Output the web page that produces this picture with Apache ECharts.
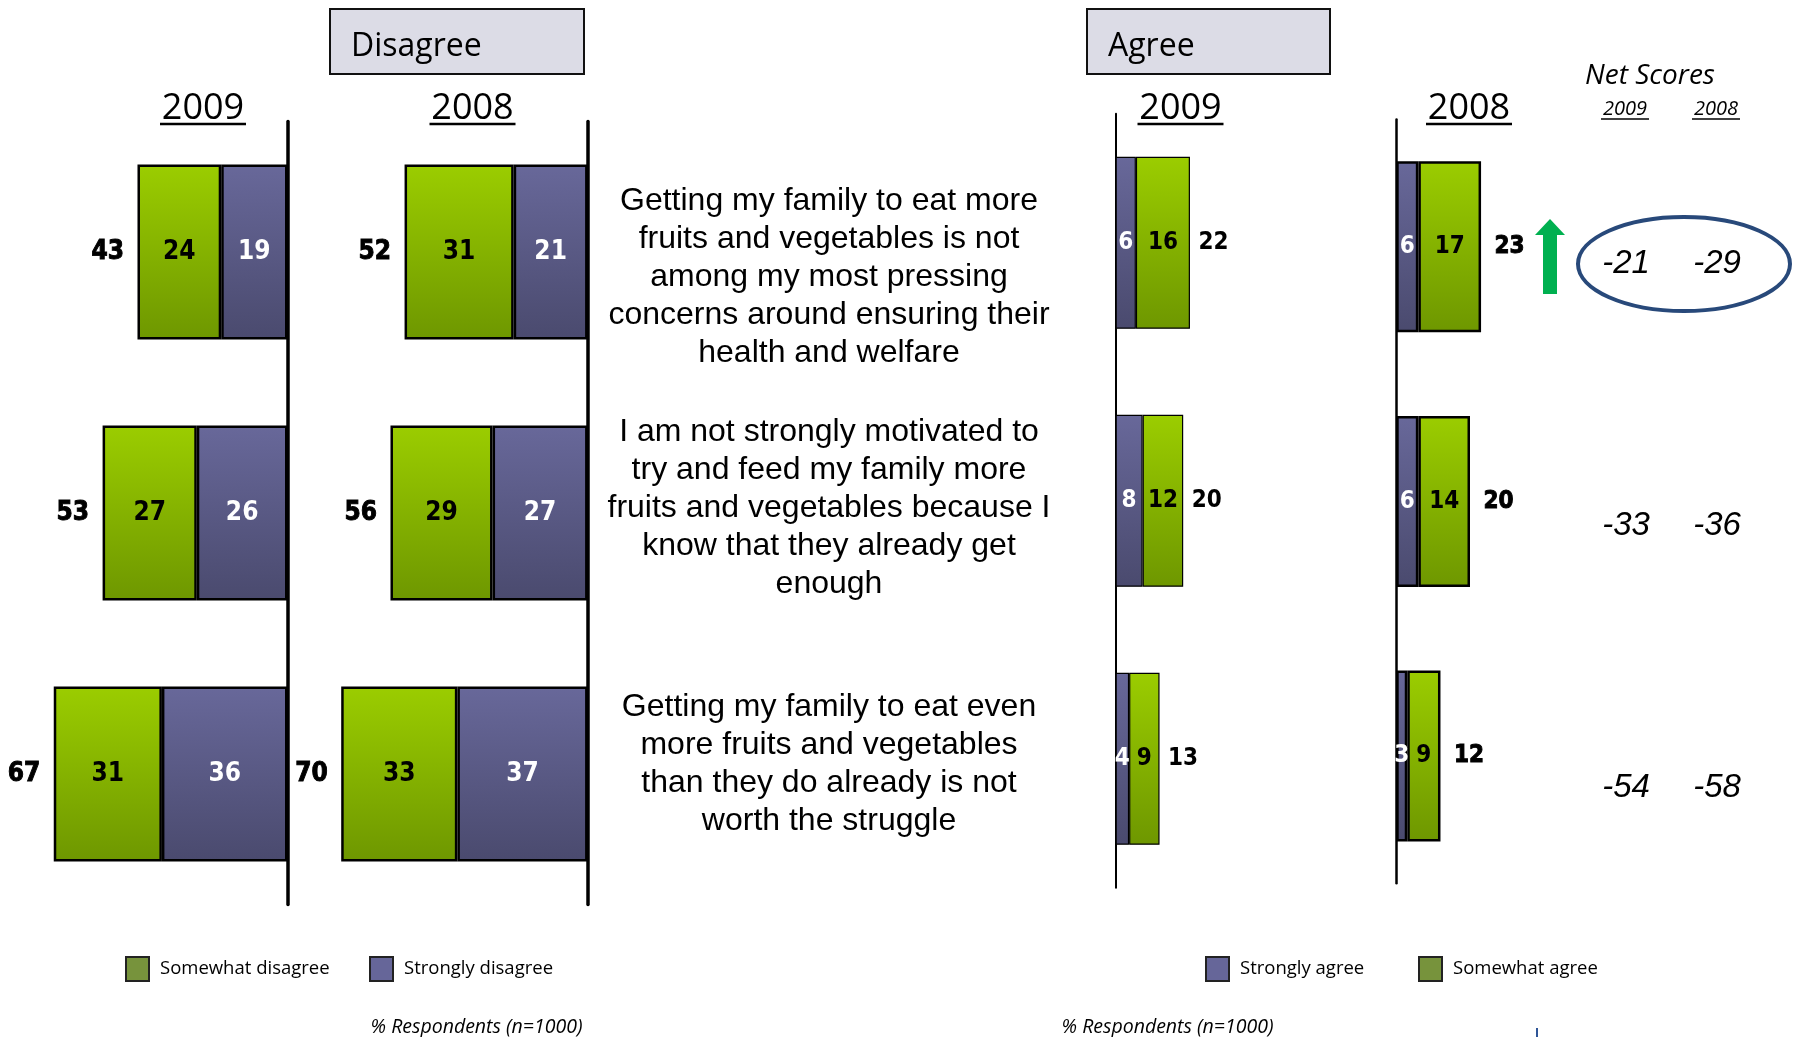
<!DOCTYPE html>
<html><head><meta charset="utf-8">
<script src="https://cdn.jsdelivr.net/npm/echarts@6/dist/echarts.min.js"></script>
<style>html,body{margin:0;padding:0;background:#fff}#c{width:1796px;height:1037px}</style>
</head><body><div id="c"></div>
<script>
// ---------------- DATA ----------------
const statements = [
  "Getting my family to eat more\nfruits and vegetables is not\namong my most pressing\nconcerns around ensuring their\nhealth and welfare",
  "I am not strongly motivated to\ntry and feed my family more\nfruits and vegetables because I\nknow that they already get\nenough",
  "Getting my family to eat even\nmore fruits and vegetables\nthan they do already is not\nworth the struggle"
];
const disagree2009Strongly = [19, 26, 36];
const disagree2009Somewhat = [24, 27, 31];
const disagree2009Total    = [43, 53, 67];
const disagree2008Strongly = [21, 27, 37];
const disagree2008Somewhat = [31, 29, 33];
const disagree2008Total    = [52, 56, 70];
const agree2009Strongly = [6, 8, 4];
const agree2009Somewhat = [16, 12, 9];
const agree2009Total    = [22, 20, 13];
const agree2008Strongly = [6, 6, 3];
const agree2008Somewhat = [17, 14, 9];
const agree2008Total    = [23, 20, 12];
const netScoreYears  = ['2009', '2008'];
const netScores2009  = [-21, -33, -54];
const netScores2008  = [-29, -36, -58];
const panelYears = ['2009', '2008', '2009', '2008'];

// ---------------- STYLE ----------------
const NARROW = "'Liberation Sans Narrow','Arial Narrow','DejaVu Sans Condensed',sans-serif";
const SANS = "'Liberation Sans',Arial,sans-serif";
const CAL = "'Open Sans',sans-serif";
const green = () => ({type:'linear',x:0,y:0,x2:0,y2:1,colorStops:[{offset:0,color:'#9BCD00'},{offset:1,color:'#6E9700'}]});
const purple = () => ({type:'linear',x:0,y:0,x2:0,y2:1,colorStops:[{offset:0,color:'#68689A'},{offset:1,color:'#4A4A6E'}]});

function barSeries(name, data, gi, color, labelColor, bw, borderW, fontSize) {
  return {type:'bar', name, data, xAxisIndex:gi, yAxisIndex:gi, stack:'s'+gi, barWidth:bw,
    itemStyle:{color, borderColor:'#000', borderWidth:borderW},
    label:{show:true, position:'inside', color:labelColor, fontFamily:NARROW, fontWeight:'bold', fontSize},
    silent:true};
}
function totalSeries(data, gi, pos, dist, fontSize, heavy) {
  return {type:'scatter', name:'total'+gi, data:data.map((v,i)=>[v,i]), xAxisIndex:gi, yAxisIndex:gi,
    symbolSize:1, itemStyle:{color:'rgba(0,0,0,0)', opacity:1}, z:5, silent:true,
    label:{show:true, opacity:1, position:pos, distance:dist, formatter:p=>p.value[0], color:'#000',
      fontFamily:NARROW, fontWeight:'bold', fontSize,
      textBorderColor:'#000', textBorderWidth: heavy ? 0.9 : 0}};
}
function netSeries(data, col) {
  return {type:'scatter', name:'net'+col, data:data.map((v,i)=>[col,i,v]), xAxisIndex:4, yAxisIndex:4,
    symbolSize:1, itemStyle:{color:'rgba(0,0,0,0)', opacity:1}, silent:true,
    label:{show:true, opacity:1, position:'inside', formatter:p=>p.value[2], color:'#000',
      fontFamily:SANS, fontStyle:'italic', fontSize:33}};
}

const grids = [
  {left:8.4,   width:279.1, top:121.5, height:783},
  {left:306,   width:281.6, top:121.5, height:783},
  {left:1115.6,width:101.4, top:113.8, height:774},
  {left:1396.2,width:110.7, top:119.5, height:763.8},
  {left:1580.5,width:182,   top:133,   height:786}
].map(g => Object.assign({outerBoundsMode:'none', containLabel:false}, g));

const xMax = [80, 80, 30, 30];
const xAxes = xMax.map((m,i)=>({type:'value', gridIndex:i, min:0, max:m, inverse:i<2, show:false}));
xAxes.push({type:'category', gridIndex:4, data:netScoreYears, show:false});

const axisW = [3.5, 3.5, 2, 2.5];
const yAxes = [0,1,2,3].map(i=>({
  type:'category', gridIndex:i, inverse:true, position: i<2 ? 'right' : 'left',
  data: statements,
  axisLine:{show:true, onZero:false, lineStyle:{color:'#000', width:axisW[i]}},
  axisTick:{show:false}, splitLine:{show:false}, axisLabel:{show:false}
}));
yAxes.push({type:'category', gridIndex:4, inverse:true, data:statements, show:false});

const series = [
  barSeries('Strongly disagree', disagree2009Strongly, 0, purple(), '#fff', 175, 2.5, 26),
  barSeries('Somewhat disagree', disagree2009Somewhat, 0, green(), '#000', 175, 2.5, 26),
  totalSeries(disagree2009Total, 0, 'left', 13, 26, true),
  barSeries('Strongly disagree', disagree2008Strongly, 1, purple(), '#fff', 175, 2.5, 26),
  barSeries('Somewhat disagree', disagree2008Somewhat, 1, green(), '#000', 175, 2.5, 26),
  totalSeries(disagree2008Total, 1, 'left', 13, 26, true),
  barSeries('Strongly agree', agree2009Strongly, 2, purple(), '#fff', 172, 1.2, 24),
  barSeries('Somewhat agree', agree2009Somewhat, 2, green(), '#000', 172, 1.2, 24),
  totalSeries(agree2009Total, 2, 'right', 8, 24, false),
  barSeries('Strongly agree', agree2008Strongly, 3, purple(), '#fff', 171, 2.5, 24),
  barSeries('Somewhat agree', agree2008Somewhat, 3, green(), '#000', 171, 2.5, 24),
  totalSeries(agree2008Total, 3, 'right', 13, 24, true),
  netSeries(netScores2009, 0),
  netSeries(netScores2008, 1)
];

function legend(name, color, left) {
  return {show:true, selectedMode:false, left, top:956, padding:0, orient:'horizontal', icon:'rect',
    itemWidth:23, itemHeight:24,
    data:[{name, itemStyle:{color, borderColor:'#222', borderWidth:2}}],
    textStyle:{fontFamily:CAL, fontSize:18.5, color:'#000', padding:[0,0,0,6]}};
}

// layout positions
const headerX = [203, 472.5, 1180.5, 1469];
const statementY = [277, 508.6, 764];
const graphic = [
  {type:'rect', shape:{x:330,y:9,width:254,height:65}, style:{fill:'#DCDCE6', stroke:'#111', lineWidth:2}},
  {type:'text', x:351, y:46.5, style:{text:'Disagree', fontFamily:CAL, fontSize:32, fill:'#000', verticalAlign:'middle'}},
  {type:'rect', shape:{x:1087,y:9,width:243,height:65}, style:{fill:'#DCDCE6', stroke:'#111', lineWidth:2}},
  {type:'text', x:1108, y:46.5, style:{text:'Agree', fontFamily:CAL, fontSize:32, fill:'#000', verticalAlign:'middle'}},
  {type:'text', x:1650, y:76.5, style:{text:'Net Scores', fontFamily:CAL, fontStyle:'italic', fontSize:28, fill:'#000', align:'center', verticalAlign:'middle'}},
  {type:'ellipse', shape:{cx:1684, cy:264, rx:106, ry:47}, style:{fill:'none', stroke:'#28497A', lineWidth:4}},
  {type:'polygon', shape:{points:[[1550,219],[1565,235],[1557,235],[1557,294],[1543,294],[1543,235],[1535,235]]}, style:{fill:'#00B050'}},
  {type:'text', x:476.5, y:1027, style:{text:'% Respondents (n=1000)', fontFamily:CAL, fontStyle:'italic', fontSize:19.5, fill:'#000', align:'center', verticalAlign:'middle'}},
  {type:'text', x:1167.5, y:1027, style:{text:'% Respondents (n=1000)', fontFamily:CAL, fontStyle:'italic', fontSize:19.5, fill:'#000', align:'center', verticalAlign:'middle'}},
  {type:'line', shape:{x1:1537,y1:1028,x2:1537,y2:1037}, style:{stroke:'#2F5597', lineWidth:2}}
];
statements.forEach((s,k)=>{
  graphic.push({type:'text', x:829, y:statementY[k], style:{text:s, fontFamily:SANS, fontSize:32, lineHeight:38,
    fill:'#000', align:'center', verticalAlign:'middle'}});
});
panelYears.forEach((y,i)=>{
  graphic.push({type:'text', x:headerX[i], y:108.5, style:{text:y, fontFamily:CAL, fontSize:36, fill:'#000', align:'center', verticalAlign:'middle'}});
  graphic.push({type:'line', shape:{x1:headerX[i]-43, y1:124, x2:headerX[i]+43, y2:124}, style:{stroke:'#000', lineWidth:2.5}});
});
const netX = [1625, 1716];
netScoreYears.forEach((y,i)=>{
  graphic.push({type:'text', x:netX[i], y:109.5, style:{text:y, fontFamily:CAL, fontStyle:'italic', fontSize:20, fill:'#000', align:'center', verticalAlign:'middle'}});
  graphic.push({type:'line', shape:{x1:netX[i]-24, y1:119, x2:netX[i]+24, y2:119}, style:{stroke:'#000', lineWidth:1.5}});
});

const chart = echarts.init(document.getElementById('c'), null, {renderer:'canvas'});
chart.setOption({
  animation:false,
  backgroundColor:'#fff',
  grid:grids, xAxis:xAxes, yAxis:yAxes, series,
  legend:[
    legend('Somewhat disagree', '#77933C', 125),
    legend('Strongly disagree', '#666699', 369),
    legend('Strongly agree', '#666699', 1205),
    legend('Somewhat agree', '#77933C', 1418)
  ],
  graphic
});
</script></body></html>
